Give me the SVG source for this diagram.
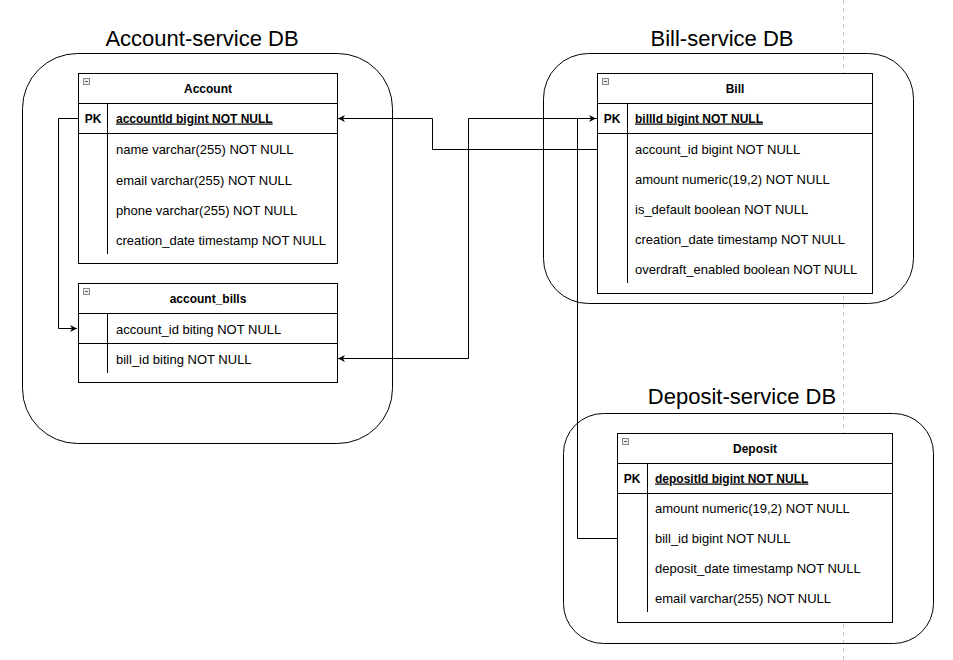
<svg xmlns="http://www.w3.org/2000/svg" width="953" height="660" viewBox="0 0 953 660">
<style>
.bg{fill:#fff}
.cont{fill:none;stroke:#000;stroke-width:1}
.tbl{fill:#fff;stroke:#000;stroke-width:1}
.ln{stroke:#000;stroke-width:1;fill:none}
.title{font-family:"Liberation Sans",Arial,sans-serif;font-size:22px;fill:#000;text-anchor:middle}
.hd{font-family:"Liberation Sans",Arial,sans-serif;font-size:12px;font-weight:bold;fill:#000;text-anchor:middle}
.pk{font-family:"Liberation Sans",Arial,sans-serif;font-size:12px;font-weight:bold;fill:#000;text-anchor:middle}
.pkf{font-family:"Liberation Sans",Arial,sans-serif;font-size:12px;font-weight:bold;fill:#000;text-decoration:underline}
.f{font-family:"Liberation Sans",Arial,sans-serif;font-size:13px;fill:#000}
.icon{fill:#eee;stroke:#888;stroke-width:1}
.conn{stroke:#000;stroke-width:1;fill:none}
</style>
<defs>
<marker id="arr" viewBox="0 0 10 10" refX="10" refY="5" markerWidth="7" markerHeight="7" orient="auto" markerUnits="userSpaceOnUse">
<path d="M0,0 L10,5 L0,10 L3,5 Z" fill="#000"/>
</marker>
</defs>
<rect class="bg" x="0" y="0" width="953" height="660"/>
<line x1="843.5" y1="0" x2="843.5" y2="660" stroke="#ccc" stroke-width="1" stroke-dasharray="4,4"/>

<g id="account-service-db">
<rect class="cont" x="22.5" y="53.5" width="370" height="390" rx="55" ry="55"/>
<text class="title" x="202" y="46">Account-service DB</text>
</g>
<g id="bill-service-db">
<rect class="cont" x="543.5" y="53.5" width="370" height="250" rx="45" ry="45"/>
<text class="title" x="722" y="46">Bill-service DB</text>
</g>
<g id="deposit-service-db">
<rect class="cont" x="563.5" y="413.5" width="370" height="230" rx="40" ry="40"/>
<text class="title" x="742" y="404">Deposit-service DB</text>
</g>

<g id="connectors">
<polyline class="conn" points="78,118.5 58.5,118.5 58.5,328.5 77,328.5" marker-end="url(#arr)"/>
<polyline class="conn" points="597,149.5 432.5,149.5 432.5,118.5 338,118.5" marker-end="url(#arr)"/>
<polyline class="conn" points="597,118.5 468.5,118.5 468.5,358.5 338,358.5" marker-end="url(#arr)"/>
<polyline class="conn" points="617,538.5 577.5,538.5 577.5,118.5 596,118.5" marker-end="url(#arr)"/>
</g>

<g id="account">
<rect class="tbl" x="78.5" y="73.5" width="259" height="190"/>
<rect class="icon" x="83.5" y="78.5" width="6" height="6"/>
<line x1="85" y1="81.5" x2="88" y2="81.5" stroke="#555"/>
<text class="hd" x="208" y="92.5">Account</text>
<line class="ln" x1="78.5" y1="103.5" x2="337.5" y2="103.5"/>
<line class="ln" x1="78.5" y1="133.5" x2="337.5" y2="133.5"/>
<line class="ln" x1="107.5" y1="103.5" x2="107.5" y2="254"/>
<text class="pk" x="93" y="122.5">PK</text>
<text class="pkf" x="116" y="122.5">accountId bigint NOT NULL</text>
<text class="f" x="116" y="154">name varchar(255) NOT NULL</text>
<text class="f" x="116" y="184.5">email varchar(255) NOT NULL</text>
<text class="f" x="116" y="214.5">phone varchar(255) NOT NULL</text>
<text class="f" x="116" y="244.5">creation_date timestamp NOT NULL</text>
</g>

<g id="account_bills">
<rect class="tbl" x="78.5" y="283.5" width="259" height="99"/>
<rect class="icon" x="83.5" y="288.5" width="6" height="6"/>
<line x1="85" y1="291.5" x2="88" y2="291.5" stroke="#555"/>
<text class="hd" x="208" y="302.5">account_bills</text>
<line class="ln" x1="78.5" y1="313.5" x2="337.5" y2="313.5"/>
<line class="ln" x1="78.5" y1="343.5" x2="337.5" y2="343.5"/>
<line class="ln" x1="107.5" y1="313.5" x2="107.5" y2="373"/>
<text class="f" x="116" y="333.5">account_id biting NOT NULL</text>
<text class="f" x="116" y="363.5">bill_id biting NOT NULL</text>
</g>

<g id="bill">
<rect class="tbl" x="597.5" y="73.5" width="275" height="220"/>
<rect class="icon" x="602.5" y="78.5" width="6" height="6"/>
<line x1="604" y1="81.5" x2="607" y2="81.5" stroke="#555"/>
<text class="hd" x="735" y="92.5">Bill</text>
<line class="ln" x1="597.5" y1="103.5" x2="872.5" y2="103.5"/>
<line class="ln" x1="597.5" y1="133.5" x2="872.5" y2="133.5"/>
<line class="ln" x1="627.5" y1="103.5" x2="627.5" y2="283"/>
<text class="pk" x="612" y="122.5">PK</text>
<text class="pkf" x="635" y="122.5">billId bigint NOT NULL</text>
<text class="f" x="635" y="154">account_id bigint NOT NULL</text>
<text class="f" x="635" y="184">amount numeric(19,2) NOT NULL</text>
<text class="f" x="635" y="214">is_default boolean NOT NULL</text>
<text class="f" x="635" y="244">creation_date timestamp NOT NULL</text>
<text class="f" x="635" y="274">overdraft_enabled boolean NOT NULL</text>
</g>

<g id="deposit">
<rect class="tbl" x="617.5" y="433.5" width="275" height="189"/>
<rect class="icon" x="622.5" y="438.5" width="6" height="6"/>
<line x1="624" y1="441.5" x2="627" y2="441.5" stroke="#555"/>
<text class="hd" x="755" y="453">Deposit</text>
<line class="ln" x1="617.5" y1="463.5" x2="892.5" y2="463.5"/>
<line class="ln" x1="617.5" y1="493.5" x2="892.5" y2="493.5"/>
<line class="ln" x1="647.5" y1="463.5" x2="647.5" y2="612"/>
<text class="pk" x="632" y="482.5">PK</text>
<text class="pkf" x="655" y="482.5">depositId bigint NOT NULL</text>
<text class="f" x="655" y="513">amount numeric(19,2) NOT NULL</text>
<text class="f" x="655" y="543">bill_id bigint NOT NULL</text>
<text class="f" x="655" y="573">deposit_date timestamp NOT NULL</text>
<text class="f" x="655" y="603">email varchar(255) NOT NULL</text>
</g>
</svg>
